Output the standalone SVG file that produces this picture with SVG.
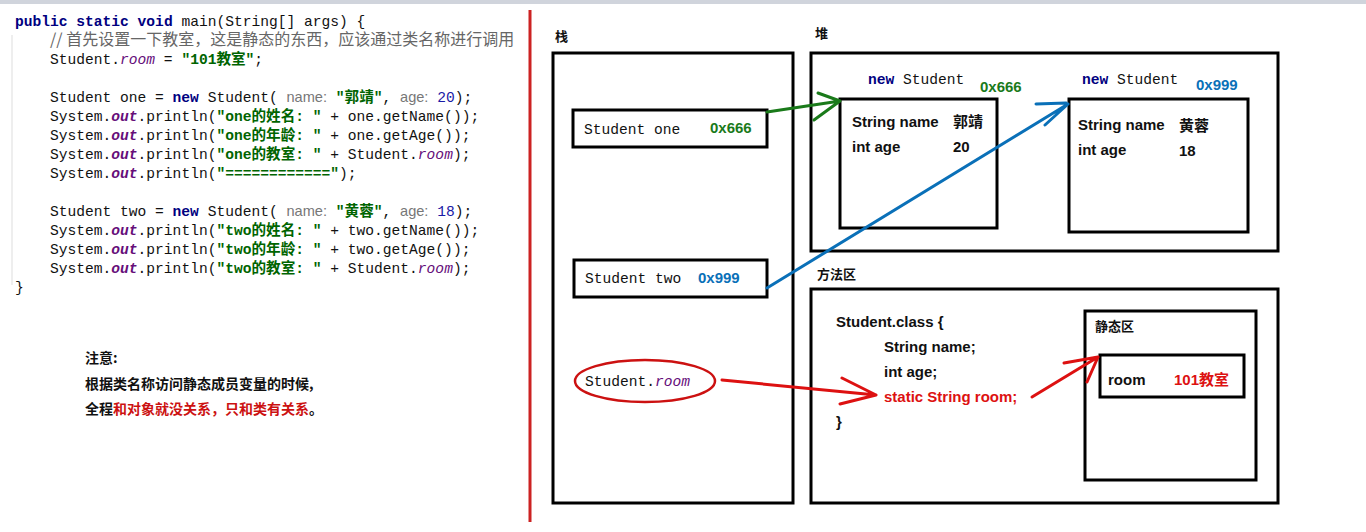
<svg xmlns="http://www.w3.org/2000/svg" width="1366" height="532" viewBox="0 0 1366 532">
<style>
.c{font-family:"Liberation Mono","Noto Sans CJK SC",monospace;font-size:14.6px;fill:#111}
.kw{fill:#000080;font-weight:bold}
.s{fill:#006400;font-weight:bold}
.o{fill:#660e7a;font-style:italic;font-weight:bold}
.r{fill:#660e7a;font-style:italic}
.h{fill:#777;font-family:"Liberation Sans",sans-serif}
.n{fill:#1a1aa6}
.cm{fill:#666;font-family:"Noto Sans CJK SC",sans-serif;font-size:16px}
.b{font-family:"Liberation Sans","Noto Sans CJK SC",sans-serif;font-weight:bold;font-size:15px;fill:#111}
.box{fill:none;stroke:#000;stroke-width:3}
.t{font-family:"Noto Sans CJK SC",sans-serif;font-weight:bold;font-size:13px;fill:#111}
.t2{font-family:"Noto Sans CJK SC",sans-serif;font-weight:bold;font-size:14px;fill:#111}
</style>
<rect width="1366" height="532" fill="#fff"/>
<rect x="0" y="0" width="1366" height="4" fill="#d0d4dc"/>
<line x1="12" y1="35" x2="12" y2="285" stroke="#ddd"/>
<g id="code">
<text class="c" x="15" y="26"><tspan class="kw">public static void</tspan> main(String[] args) {</text>
<text class="c" x="50" y="45"><tspan class="cm">// 首先设置一下教室，这是静态的东西，应该通过类名称进行调用</tspan></text>
<text class="c" x="50" y="64">Student.<tspan class="r">room</tspan> = <tspan class="s">"101教室"</tspan>;</text>
<text class="c" x="50" y="102">Student one = <tspan class="kw">new</tspan> Student( <tspan class="h">name:</tspan> <tspan class="s">"郭靖"</tspan>,  <tspan class="h">age:</tspan> <tspan class="n">20</tspan>);</text>
<text class="c" x="50" y="121">System.<tspan class="o">out</tspan>.println(<tspan class="s">"one的姓名: "</tspan> + one.getName());</text>
<text class="c" x="50" y="140">System.<tspan class="o">out</tspan>.println(<tspan class="s">"one的年龄: "</tspan> + one.getAge());</text>
<text class="c" x="50" y="159">System.<tspan class="o">out</tspan>.println(<tspan class="s">"one的教室: "</tspan> + Student.<tspan class="r">room</tspan>);</text>
<text class="c" x="50" y="178">System.<tspan class="o">out</tspan>.println(<tspan class="s">"============"</tspan>);</text>
<text class="c" x="50" y="216">Student two = <tspan class="kw">new</tspan> Student( <tspan class="h">name:</tspan> <tspan class="s">"黄蓉"</tspan>,  <tspan class="h">age:</tspan> <tspan class="n">18</tspan>);</text>
<text class="c" x="50" y="235">System.<tspan class="o">out</tspan>.println(<tspan class="s">"two的姓名: "</tspan> + two.getName());</text>
<text class="c" x="50" y="254">System.<tspan class="o">out</tspan>.println(<tspan class="s">"two的年龄: "</tspan> + two.getAge());</text>
<text class="c" x="50" y="273">System.<tspan class="o">out</tspan>.println(<tspan class="s">"two的教室: "</tspan> + Student.<tspan class="r">room</tspan>);</text>
<text class="c" x="15" y="292">}</text>
</g>
<g id="note">
<text class="t2" x="85" y="363">注意:</text>
<text class="t2" x="85" y="389">根据类名称访问静态成员变量的时候,</text>
<text class="t2" x="85" y="414">全程<tspan fill="#cc1111">和对象就没关系，只和类有关系</tspan>。</text>
</g>
<line x1="530" y1="10" x2="530" y2="522" stroke="#cc2222" stroke-width="3"/>
<g id="stack">
<text class="t" x="555" y="41">栈</text>
<rect class="box" x="553" y="53" width="240" height="450"/>
</g>
<g id="heap">
<text class="t" x="815" y="38">堆</text>
<rect class="box" x="811" y="53" width="467" height="198"/>
</g>
<g id="method">
<text class="t" x="817" y="279">方法区</text>
<rect class="box" x="811" y="289" width="467" height="214"/>
<text class="b" x="836" y="327">Student.class {</text>
<text class="b" x="884" y="352">String name;</text>
<text class="b" x="884" y="377">int age;</text>
<text class="b" x="884" y="402" style="fill:#dd1111">static String room;</text>
<text class="b" x="836" y="427">}</text>
</g>
<g id="static">
<rect class="box" x="1085" y="311" width="171" height="169"/>
<text class="t" x="1095" y="331">静态区</text>
<rect class="box" x="1100" y="355" width="144" height="42"/>
<text class="b" x="1108" y="385">room</text>
<text class="b" x="1174" y="385" style="fill:#dd1111">101教室</text>
</g>
<g id="one">
<rect class="box" x="573" y="110" width="194" height="37"/>
<text class="c" x="584" y="134">Student one</text>
<text class="b" x="710" y="133" style="fill:#1a7a1a">0x666</text>
</g>
<g id="two">
<rect class="box" x="574" y="260" width="193" height="37"/>
<text class="c" x="585" y="283">Student two</text>
<text class="b" x="698" y="283" style="fill:#0a70b8">0x999</text>
</g>
<g id="room">
<ellipse cx="645" cy="381" rx="70" ry="21" fill="none" stroke="#cc1111" stroke-width="2.5"/>
<text class="c" x="585" y="386">Student.<tspan class="r">room</tspan></text>
</g>
<g id="obj1">
<text class="c" x="868" y="84"><tspan class="kw">new</tspan> Student</text>
<text class="b" x="980" y="92" style="fill:#1a7a1a">0x666</text>
<rect class="box" x="840" y="99" width="157" height="129"/>
<text class="b" x="852" y="127">String name</text>
<text class="t" x="953" y="127" style="font-size:15px">郭靖</text>
<text class="b" x="852" y="152">int age</text>
<text class="b" x="953" y="152">20</text>
</g>
<g id="obj2">
<text class="c" x="1082" y="84"><tspan class="kw">new</tspan> Student</text>
<text class="b" x="1196" y="90" style="fill:#0a70b8">0x999</text>
<rect class="box" x="1069" y="99" width="179" height="133"/>
<text class="b" x="1078" y="130">String name</text>
<text class="t" x="1179" y="131" style="font-size:15px">黄蓉</text>
<text class="b" x="1078" y="155">int age</text>
<text class="b" x="1179" y="156">18</text>
</g>
<g id="connectors" fill="none" stroke-width="3" stroke-linecap="round">
<path d="M767 112 L840 101 M818 93 L840 101 M814 120 L840 101" stroke="#1a7a1a"/>
<path d="M767 288 L1068 104 M1036 104 L1066 103 M1045 125 L1068 104" stroke="#0a70b8"/>
<path d="M722 380 L876 395 M842 378 L876 395 M840 404 L876 395" stroke="#dd1111"/>
<path d="M1032 397 L1098 357 M1064 363 L1098 357 M1087 382 L1098 357" stroke="#dd1111"/>
</g>
</svg>
